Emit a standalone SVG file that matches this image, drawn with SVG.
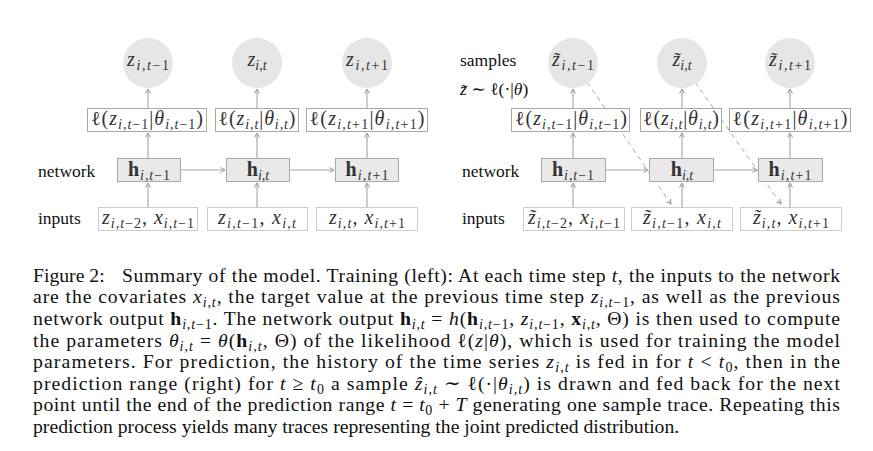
<svg xmlns="http://www.w3.org/2000/svg" width="873" height="451" viewBox="0 0 873 451">
<defs>
<marker id="ah" viewBox="0 0 8 8" refX="7" refY="4" markerWidth="8" markerHeight="8" markerUnits="userSpaceOnUse" orient="auto"><path d="M2.5,1.5 L7,4 L2.5,6.5" fill="none" stroke="#999" stroke-width="1"/></marker>
<style>
.circ{fill:#e6e6e6;stroke:none}
.lb{fill:#fff;stroke:#a8a8a8;stroke-width:1}
.nb{fill:#e9e9e9;stroke:#a8a8a8;stroke-width:1}
.ib{fill:#fff;stroke:#cdcdcd;stroke-width:1}
.ar{stroke:#aaa;stroke-width:1.2;fill:none;marker-end:url(#ah)}
.da{stroke:#aaa;stroke-width:1;fill:none;stroke-dasharray:5 4;marker-end:url(#ah)}
.lab{font-family:"Liberation Serif","DejaVu Serif",serif;font-size:17.5px;fill:#111}
.m{font-family:"Liberation Serif","DejaVu Serif",serif;font-size:20px;fill:#333;text-anchor:middle}
.i{font-style:italic}
.b{font-weight:bold}
.s{font-size:14px}
.cap{font-family:"Liberation Serif","DejaVu Serif",serif;font-size:19.7px;fill:#111}
.cs{font-size:14px}
</style>
</defs>
<rect width="873" height="451" fill="#fff"/>

<g id="connectors">
<line class="ar" x1="148" y1="207" x2="148" y2="183"/>
<line class="ar" x1="148" y1="158" x2="148" y2="133"/>
<line class="ar" x1="148" y1="108" x2="148" y2="89"/>
<line class="ar" x1="257" y1="207" x2="257" y2="183"/>
<line class="ar" x1="257" y1="158" x2="257" y2="133"/>
<line class="ar" x1="257" y1="108" x2="257" y2="89"/>
<line class="ar" x1="367" y1="207" x2="367" y2="183"/>
<line class="ar" x1="367" y1="158" x2="367" y2="133"/>
<line class="ar" x1="367" y1="108" x2="367" y2="89"/>
<line class="ar" x1="181" y1="170" x2="225" y2="170"/>
<line class="ar" x1="290" y1="170" x2="334" y2="170"/>
<line class="ar" x1="573" y1="207" x2="573" y2="183"/>
<line class="ar" x1="573" y1="158" x2="573" y2="133"/>
<line class="ar" x1="573" y1="108" x2="573" y2="89"/>
<line class="ar" x1="682" y1="207" x2="682" y2="183"/>
<line class="ar" x1="682" y1="158" x2="682" y2="133"/>
<line class="ar" x1="682" y1="108" x2="682" y2="89"/>
<line class="ar" x1="790" y1="207" x2="790" y2="183"/>
<line class="ar" x1="790" y1="158" x2="790" y2="133"/>
<line class="ar" x1="790" y1="108" x2="790" y2="89"/>
<line class="ar" x1="606" y1="170" x2="648" y2="170"/>
<line class="ar" x1="714" y1="170" x2="757" y2="170"/>
<line class="da" x1="587" y1="82" x2="671" y2="204"/>
<line class="da" x1="695" y1="82" x2="781" y2="204"/>
</g>

<g id="labels-left">
<text class="lab" x="38" y="176.5">network</text>
<text class="lab" x="38" y="224">inputs</text>
</g>

<g id="L-z1"><circle class="circ" cx="148" cy="63" r="25"/><text class="m" x="148" y="66" textLength="42" lengthAdjust="spacing"><tspan class="i">z</tspan><tspan class="s" dy="4"><tspan class="i">i,t</tspan>−1</tspan></text></g>
<g id="L-z2"><circle class="circ" cx="257" cy="63" r="25"/><text class="m" x="257" y="66"><tspan class="i">z</tspan><tspan class="s i" dy="4">i,t</tspan></text></g>
<g id="L-z3"><circle class="circ" cx="367" cy="63" r="25"/><text class="m" x="367" y="66" textLength="42" lengthAdjust="spacing"><tspan class="i">z</tspan><tspan class="s" dy="4"><tspan class="i">i,t</tspan>+1</tspan></text></g>

<g id="L-l1"><rect class="lb" x="87.5" y="108.5" width="119" height="23"/><text class="m" x="147" y="124.5" textLength="112" lengthAdjust="spacing">ℓ(<tspan class="i">z</tspan><tspan class="s" dy="4"><tspan class="i">i,t</tspan>−1</tspan><tspan dy="-4">|</tspan><tspan class="i">θ</tspan><tspan class="s" dy="4"><tspan class="i">i,t</tspan>−1</tspan><tspan dy="-4">)</tspan></text></g>
<g id="L-l2"><rect class="lb" x="215.5" y="108.5" width="83" height="23"/><text class="m" x="257" y="124.5" textLength="77" lengthAdjust="spacing">ℓ(<tspan class="i">z</tspan><tspan class="s i" dy="4">i,t</tspan><tspan dy="-4">|</tspan><tspan class="i">θ</tspan><tspan class="s i" dy="4">i,t</tspan><tspan dy="-4">)</tspan></text></g>
<g id="L-l3"><rect class="lb" x="306.5" y="108.5" width="121" height="23"/><text class="m" x="367" y="124.5" textLength="115" lengthAdjust="spacing">ℓ(<tspan class="i">z</tspan><tspan class="s" dy="4"><tspan class="i">i,t</tspan>+1</tspan><tspan dy="-4">|</tspan><tspan class="i">θ</tspan><tspan class="s" dy="4"><tspan class="i">i,t</tspan>+1</tspan><tspan dy="-4">)</tspan></text></g>

<g id="L-h1"><rect class="nb" x="117.5" y="158.5" width="63" height="23"/><text class="m" x="149" y="176" textLength="42" lengthAdjust="spacing"><tspan class="b">h</tspan><tspan class="s" dy="4"><tspan class="i">i,t</tspan>−1</tspan></text></g>
<g id="L-h2"><rect class="nb" x="226.5" y="158.5" width="63" height="23"/><text class="m" x="258" y="176"><tspan class="b">h</tspan><tspan class="s i" dy="4">i,t</tspan></text></g>
<g id="L-h3"><rect class="nb" x="335.5" y="158.5" width="63" height="23"/><text class="m" x="367" y="176" textLength="43" lengthAdjust="spacing"><tspan class="b">h</tspan><tspan class="s" dy="4"><tspan class="i">i,t</tspan>+1</tspan></text></g>

<g id="L-in1"><rect class="ib" x="98.5" y="207.5" width="99" height="23"/><text class="m" x="148" y="223.5" textLength="92" lengthAdjust="spacing"><tspan class="i">z</tspan><tspan class="s" dy="4"><tspan class="i">i,t</tspan>−2</tspan><tspan dy="-4">, </tspan><tspan class="i">x</tspan><tspan class="s" dy="4"><tspan class="i">i,t</tspan>−1</tspan></text></g>
<g id="L-in2"><rect class="ib" x="207.5" y="207.5" width="100" height="23"/><text class="m" x="257" y="223.5" textLength="78" lengthAdjust="spacing"><tspan class="i">z</tspan><tspan class="s" dy="4"><tspan class="i">i,t</tspan>−1</tspan><tspan dy="-4">, </tspan><tspan class="i">x</tspan><tspan class="s i" dy="4">i,t</tspan></text></g>
<g id="L-in3"><rect class="ib" x="316.5" y="207.5" width="101" height="23"/><text class="m" x="367" y="223.5" textLength="76" lengthAdjust="spacing"><tspan class="i">z</tspan><tspan class="s i" dy="4">i,t</tspan><tspan dy="-4">, </tspan><tspan class="i">x</tspan><tspan class="s" dy="4"><tspan class="i">i,t</tspan>+1</tspan></text></g>

<g id="labels-right">
<text class="lab" x="460" y="66">samples</text>
<text class="lab" x="460" y="95"><tspan class="i">z̃</tspan> ∼ ℓ(·|<tspan class="i">θ</tspan>)</text>
<text class="lab" x="462" y="176.5">network</text>
<text class="lab" x="462" y="224">inputs</text>
</g>

<g id="R-z1"><circle class="circ" cx="573" cy="63" r="25"/><text class="m" x="573" y="66" textLength="42" lengthAdjust="spacing"><tspan class="i">z̃</tspan><tspan class="s" dy="4"><tspan class="i">i,t</tspan>−1</tspan></text></g>
<g id="R-z2"><circle class="circ" cx="682" cy="63" r="25"/><text class="m" x="682" y="66"><tspan class="i">z̃</tspan><tspan class="s i" dy="4">i,t</tspan></text></g>
<g id="R-z3"><circle class="circ" cx="790" cy="63" r="25"/><text class="m" x="790" y="66" textLength="42" lengthAdjust="spacing"><tspan class="i">z̃</tspan><tspan class="s" dy="4"><tspan class="i">i,t</tspan>+1</tspan></text></g>

<g id="R-l1"><rect class="lb" x="511.5" y="108.5" width="118" height="23"/><text class="m" x="571" y="124.5" textLength="112" lengthAdjust="spacing">ℓ(<tspan class="i">z</tspan><tspan class="s" dy="4"><tspan class="i">i,t</tspan>−1</tspan><tspan dy="-4">|</tspan><tspan class="i">θ</tspan><tspan class="s" dy="4"><tspan class="i">i,t</tspan>−1</tspan><tspan dy="-4">)</tspan></text></g>
<g id="R-l2"><rect class="lb" x="640.5" y="108.5" width="81" height="23"/><text class="m" x="681" y="124.5" textLength="76" lengthAdjust="spacing">ℓ(<tspan class="i">z</tspan><tspan class="s i" dy="4">i,t</tspan><tspan dy="-4">|</tspan><tspan class="i">θ</tspan><tspan class="s i" dy="4">i,t</tspan><tspan dy="-4">)</tspan></text></g>
<g id="R-l3"><rect class="lb" x="729.5" y="108.5" width="121" height="23"/><text class="m" x="790" y="124.5" textLength="115" lengthAdjust="spacing">ℓ(<tspan class="i">z</tspan><tspan class="s" dy="4"><tspan class="i">i,t</tspan>+1</tspan><tspan dy="-4">|</tspan><tspan class="i">θ</tspan><tspan class="s" dy="4"><tspan class="i">i,t</tspan>+1</tspan><tspan dy="-4">)</tspan></text></g>

<g id="R-h1"><rect class="nb" x="541.5" y="158.5" width="64" height="23"/><text class="m" x="573" y="176" textLength="42" lengthAdjust="spacing"><tspan class="b">h</tspan><tspan class="s" dy="4"><tspan class="i">i,t</tspan>−1</tspan></text></g>
<g id="R-h2"><rect class="nb" x="649.5" y="158.5" width="64" height="23"/><text class="m" x="682" y="176"><tspan class="b">h</tspan><tspan class="s i" dy="4">i,t</tspan></text></g>
<g id="R-h3"><rect class="nb" x="758.5" y="158.5" width="64" height="23"/><text class="m" x="790" y="176" textLength="43" lengthAdjust="spacing"><tspan class="b">h</tspan><tspan class="s" dy="4"><tspan class="i">i,t</tspan>+1</tspan></text></g>

<g id="R-in1"><rect class="ib" x="523.5" y="207.5" width="101" height="23"/><text class="m" x="574" y="223.5" textLength="92" lengthAdjust="spacing"><tspan class="i">z̃</tspan><tspan class="s" dy="4"><tspan class="i">i,t</tspan>−2</tspan><tspan dy="-4">, </tspan><tspan class="i">x</tspan><tspan class="s" dy="4"><tspan class="i">i,t</tspan>−1</tspan></text></g>
<g id="R-in2"><rect class="ib" x="631.5" y="207.5" width="101" height="23"/><text class="m" x="682" y="223.5" textLength="78" lengthAdjust="spacing"><tspan class="i">z̃</tspan><tspan class="s" dy="4"><tspan class="i">i,t</tspan>−1</tspan><tspan dy="-4">, </tspan><tspan class="i">x</tspan><tspan class="s i" dy="4">i,t</tspan></text></g>
<g id="R-in3"><rect class="ib" x="740.5" y="207.5" width="101" height="23"/><text class="m" x="791" y="223.5" textLength="76" lengthAdjust="spacing"><tspan class="i">z̃</tspan><tspan class="s i" dy="4">i,t</tspan><tspan dy="-4">, </tspan><tspan class="i">x</tspan><tspan class="s" dy="4"><tspan class="i">i,t</tspan>+1</tspan></text></g>

<g id="caption" class="cap">
<text x="33" y="281.5">Figure 2:</text>
<text x="122" y="281.5" textLength="718" lengthAdjust="spacing">Summary of the model. Training (left): At each time step <tspan class="i">t</tspan>, the inputs to the network</text>
<text x="33" y="303.2" textLength="807" lengthAdjust="spacing">are the covariates <tspan class="i">x</tspan><tspan class="cs i" dy="4">i,t</tspan><tspan dy="-4">, the target value at the previous time step </tspan><tspan class="i">z</tspan><tspan class="cs" dy="4"><tspan class="i">i,t</tspan>−1</tspan><tspan dy="-4">, as well as the previous</tspan></text>
<text x="33" y="324.8" textLength="807" lengthAdjust="spacing">network output <tspan class="b">h</tspan><tspan class="cs" dy="4"><tspan class="i">i,t</tspan>−1</tspan><tspan dy="-4">. The network output </tspan><tspan class="b">h</tspan><tspan class="cs i" dy="4">i,t</tspan><tspan dy="-4"> = </tspan><tspan class="i">h</tspan>(<tspan class="b">h</tspan><tspan class="cs" dy="4"><tspan class="i">i,t</tspan>−1</tspan><tspan dy="-4">, </tspan><tspan class="i">z</tspan><tspan class="cs" dy="4"><tspan class="i">i,t</tspan>−1</tspan><tspan dy="-4">, </tspan><tspan class="b">x</tspan><tspan class="cs i" dy="4">i,t</tspan><tspan dy="-4">, Θ) is then used to compute</tspan></text>
<text x="33" y="346.5" textLength="807" lengthAdjust="spacing">the parameters <tspan class="i">θ</tspan><tspan class="cs i" dy="4">i,t</tspan><tspan dy="-4"> = </tspan><tspan class="i">θ</tspan>(<tspan class="b">h</tspan><tspan class="cs i" dy="4">i,t</tspan><tspan dy="-4">, Θ) of the likelihood ℓ(</tspan><tspan class="i">z</tspan>|<tspan class="i">θ</tspan>), which is used for training the model</text>
<text x="33" y="368.1" textLength="807" lengthAdjust="spacing">parameters.  For prediction, the history of the time series <tspan class="i">z</tspan><tspan class="cs i" dy="4">i,t</tspan><tspan dy="-4"> is fed in for </tspan><tspan class="i">t</tspan> &lt; <tspan class="i">t</tspan><tspan class="cs" dy="4">0</tspan><tspan dy="-4">, then in the</tspan></text>
<text x="33" y="389.8" textLength="807" lengthAdjust="spacing">prediction range (right) for <tspan class="i">t</tspan> ≥ <tspan class="i">t</tspan><tspan class="cs" dy="4">0</tspan><tspan dy="-4"> a sample </tspan><tspan class="i">ẑ</tspan><tspan class="cs i" dy="4">i,t</tspan><tspan dy="-4"> ∼ ℓ(·|</tspan><tspan class="i">θ</tspan><tspan class="cs i" dy="4">i,t</tspan><tspan dy="-4">) is drawn and fed back for the next</tspan></text>
<text x="33" y="411.4" textLength="807" lengthAdjust="spacing">point until the end of the prediction range <tspan class="i">t</tspan> = <tspan class="i">t</tspan><tspan class="cs" dy="4">0</tspan><tspan dy="-4"> + </tspan><tspan class="i">T</tspan> generating one sample trace. Repeating this</text>
<text x="33" y="433.1">prediction process yields many traces representing the joint predicted distribution.</text>
</g>
</svg>
